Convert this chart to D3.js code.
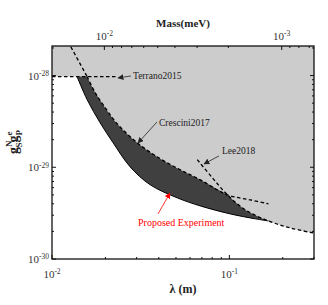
<!DOCTYPE html>
<html>
<head>
<meta charset="utf-8">
<script src="https://cdn.jsdelivr.net/npm/d3@7"></script>
<style>
  body { margin: 0; background: #fff; }
  text { font-family: "Liberation Serif", "Times New Roman", serif; }
</style>
</head>
<body>
<svg id="chart" width="328" height="305"></svg>
<script>
// wavelength lambda (m) and coupling g_S^N g_P^e
var terranoFlatLambda = [0.01, 0.0230];
var terranoFlatG = [9.75e-29, 9.75e-29];
var terranoSteepLambda = [0.0123, 0.01577];
var terranoSteepG = [2.35e-28, 9.75e-29];

var cresciniLambda = [0.01577, 0.0175, 0.01993, 0.02329, 0.03021, 0.04076, 0.05287, 0.06858, 0.09743, 0.1314, 0.1661];
var cresciniG = [9.75e-29, 6.52e-29, 4.47e-29, 2.99e-29, 1.85e-29, 1.24e-29, 9.39e-30, 7.30e-30, 5.01e-30, 4.41e-30, 3.99e-30];

var leeLambda = [0.06596, 0.08017, 0.09743, 0.1231, 0.1661, 0.2211, 0.2983];
var leeG = [1.21e-29, 7.68e-30, 5.01e-30, 3.43e-30, 2.60e-30, 2.18e-30, 1.92e-30];

var proposedLambda = [0.01384, 0.01577, 0.01867, 0.02211, 0.02759, 0.03579, 0.05085, 0.06858, 0.1013, 0.1403, 0.1661];
var proposedG = [9.75e-29, 5.47e-29, 3.06e-29, 1.85e-29, 1.01e-29, 6.44e-30, 4.64e-30, 3.79e-30, 3.10e-30, 2.74e-30, 2.60e-30];

// where Lee2018 takes over from Crescini2017
var kinkLambda = 0.09743;

var lambdaMajor = [0.01, 0.1];
var lambdaExp = ["-2", "-1"];
var massMajor = [1e-2, 1e-3];
var massExp = ["-2", "-3"];
var gMajor = [1e-28, 1e-29, 1e-30];
var gExp = ["-28", "-29", "-30"];

// annotations: [text lambda, text g, arrow tail lambda, tail g, tip lambda, tip g]
var notes = [
  {label: "Terrano2015", color: "#222", pos: [0.02862, 9.2e-29, 0.02789, 9.9e-29, 0.02356, 9.42e-29]},
  {label: "Crescini2017", color: "#222", pos: [0.04012, 2.82e-29, 0.03908, 3.12e-29, 0.03054, 1.84e-29]},
  {label: "Lee2018", color: "#222", pos: [0.09088, 1.40e-29, 0.0874, 1.33e-29, 0.07194, 1.087e-29]},
  {label: "Proposed Experiment", color: "#ff0000", pos: [0.03054, 2.29e-30, 0.0396, 3.10e-30, 0.04627, 5.25e-30]}
];

var W = 328, H = 305,
  pLeft = 52, pRight = 314, pTop = 46, pBottom = 259;

var hbarc = 1.97327e-4; // meV * m

var x = d3.scaleLog().domain([0.01, 0.3]).range([pLeft, pRight]);
var y = d3.scaleLog().domain([1e-30, 2.1e-28]).range([pBottom, pTop]);
var xMass = d3.scaleLog().domain([hbarc / 0.01, hbarc / 0.3]).range([pLeft, pRight]);

var svg = d3.select("#chart");

var defs = svg.append("defs");
defs.append("clipPath").attr("id", "plotclip")
  .append("rect").attr("x", pLeft).attr("y", pTop)
  .attr("width", pRight - pLeft).attr("height", pBottom - pTop);

["#222", "#ff0000"].forEach(function(c, i) {
  defs.append("marker").attr("id", "arrow" + i)
    .attr("viewBox", "0 0 10 10").attr("refX", 9).attr("refY", 5)
    .attr("markerWidth", 6).attr("markerHeight", 6)
    .attr("markerUnits", "userSpaceOnUse")
    .attr("orient", "auto")
    .append("path").attr("d", "M0,0L10,5L0,10z").attr("fill", c);
});

function pts(ls, gs) {
  return ls.map(function(l, i) { return [x(l), y(gs[i])]; });
}
var curve = d3.line().curve(d3.curveCatmullRom.alpha(0.5));
var straight = d3.line();

var cres = pts(cresciniLambda, cresciniG);
var lee = pts(leeLambda, leeG);
var prop = pts(proposedLambda, proposedG);

var kinkI = cresciniLambda.indexOf(kinkLambda);
var cresPart = cres.slice(0, kinkI + 1);
var leeStart = leeLambda.indexOf(kinkLambda);
var leePart = lee.slice(leeStart);
var propEnd = proposedLambda[proposedLambda.length - 1];
var leeDark = lee.slice(leeStart, leeLambda.indexOf(propEnd) + 1);

var plot = svg.append("g").attr("clip-path", "url(#plotclip)");

//Light grey excluded region
var lightD = "M" + pLeft + "," + pTop +
  "L" + pLeft + "," + y(terranoFlatG[0]) +
  "L" + curve(cresPart).slice(1) +
  "L" + curve(leePart).slice(1) +
  "L" + pRight + "," + y(leeG[leeG.length - 1]) +
  "L" + pRight + "," + pTop + "Z";
plot.append("path").attr("d", lightD).attr("fill", "#cccccc");

//Dark region reached by the proposed experiment
var darkD = curve(prop) +
  "L" + curve(leeDark.slice().reverse()).slice(1) +
  "L" + curve(cresPart.slice().reverse()).slice(1) + "Z";
plot.append("path").attr("d", darkD).attr("fill", "#404040");

plot.append("path").attr("d", curve(prop))
  .attr("fill", "none").attr("stroke", "#000").attr("stroke-width", 1);

var dashed = [
  straight(pts(terranoFlatLambda, terranoFlatG)),
  straight(pts(terranoSteepLambda, terranoSteepG)),
  curve(cres),
  curve(lee)
];
plot.selectAll("path.dash").data(dashed).enter().append("path")
  .attr("class", "dash")
  .attr("d", function(d) { return d; })
  .attr("fill", "none").attr("stroke", "#000")
  .attr("stroke-width", 1.3).attr("stroke-dasharray", "3.5,2.5");

//Annotations
notes.forEach(function(n) {
  var p = n.pos;
  var mk = n.color === "#ff0000" ? 1 : 0;
  svg.append("line")
    .attr("x1", x(p[2])).attr("y1", y(p[3]))
    .attr("x2", x(p[4])).attr("y2", y(p[5]))
    .attr("stroke", n.color).attr("stroke-width", 0.8)
    .attr("marker-end", "url(#arrow" + mk + ")");
  svg.append("text")
    .attr("x", x(p[0])).attr("y", y(p[1]))
    .attr("font-size", n.color === "#ff0000" ? "10px" : "9.5px")
    .attr("fill", n.color).text(n.label);
});

//Ticks
function minors(lo, hi) {
  var out = [];
  for (var e = Math.floor(Math.log10(lo)); e <= Math.ceil(Math.log10(hi)); e++) {
    for (var k = 2; k <= 9; k++) {
      var v = k * Math.pow(10, e);
      if (v >= lo * 0.999 && v <= hi * 1.001) out.push(v);
    }
  }
  return out;
}

var ticks = svg.append("g").attr("stroke", "#111").attr("stroke-width", 1);

function bottomTicks(vals, sc, len) {
  vals.forEach(function(v) {
    var px = sc(v);
    ticks.append("line").attr("x1", px).attr("x2", px).attr("y1", pBottom).attr("y2", pBottom - len);
  });
}
function topTicks(vals, sc, len) {
  vals.forEach(function(v) {
    var px = sc(v);
    ticks.append("line").attr("x1", px).attr("x2", px).attr("y1", pTop).attr("y2", pTop + len);
  });
}
function sideTicks(vals, len) {
  vals.forEach(function(v) {
    var py = y(v);
    ticks.append("line").attr("x1", pLeft).attr("x2", pLeft + len).attr("y1", py).attr("y2", py);
    ticks.append("line").attr("x1", pRight).attr("x2", pRight - len).attr("y1", py).attr("y2", py);
  });
}

bottomTicks(lambdaMajor, x, 4);
bottomTicks(minors(0.01, 0.3), x, 2);
topTicks(massMajor, xMass, 4);
topTicks(minors(hbarc / 0.3, hbarc / 0.01), xMass, 2);
sideTicks(gMajor, 4);
sideTicks(minors(1e-30, 2.1e-28), 2);

// frame
svg.append("rect").attr("x", pLeft).attr("y", pTop)
  .attr("width", pRight - pLeft).attr("height", pBottom - pTop)
  .attr("fill", "none").attr("stroke", "#111").attr("stroke-width", 1.3);

function powLabel(px, py, exp, anchor) {
  var t = svg.append("text").attr("x", px).attr("y", py)
    .attr("font-size", "11px").attr("fill", "#333").attr("text-anchor", anchor);
  t.append("tspan").text("10");
  t.append("tspan").attr("dy", "-0.5em").attr("font-size", "7.5px").text(exp);
}

lambdaMajor.forEach(function(v, i) { powLabel(x(v), 278, lambdaExp[i], "middle"); });
massMajor.forEach(function(v, i) { powLabel(xMass(v), 40, massExp[i], "middle"); });
gMajor.forEach(function(v, i) { powLabel(pLeft - 3, y(v) + 4, gExp[i], "end"); });

//Axis titles
svg.append("text").attr("x", (pLeft + pRight) / 2).attr("y", 27)
  .attr("text-anchor", "middle").attr("font-size", "11px").attr("font-weight", "bold")
  .attr("fill", "#222").text("Mass(meV)");

svg.append("text").attr("x", (pLeft + pRight) / 2).attr("y", 293)
  .attr("text-anchor", "middle").attr("font-size", "12px").attr("font-weight", "bold")
  .attr("fill", "#222").text("λ (m)");

var yl = svg.append("text")
  .attr("transform", "translate(18,142) rotate(-90)")
  .attr("text-anchor", "middle").attr("font-size", "14px").attr("font-weight", "bold")
  .attr("fill", "#222");
yl.append("tspan").text("g");
yl.append("tspan").attr("font-size", "9px").attr("dy", "-6").text("N");
yl.append("tspan").attr("font-size", "9px").attr("dx", "-7").attr("dy", "10").text("S");
yl.append("tspan").attr("dy", "-4").text("g");
yl.append("tspan").attr("font-size", "9px").attr("dy", "-6").text("e");
yl.append("tspan").attr("font-size", "9px").attr("dx", "-4").attr("dy", "10").text("P");
</script>
</body>
</html>
